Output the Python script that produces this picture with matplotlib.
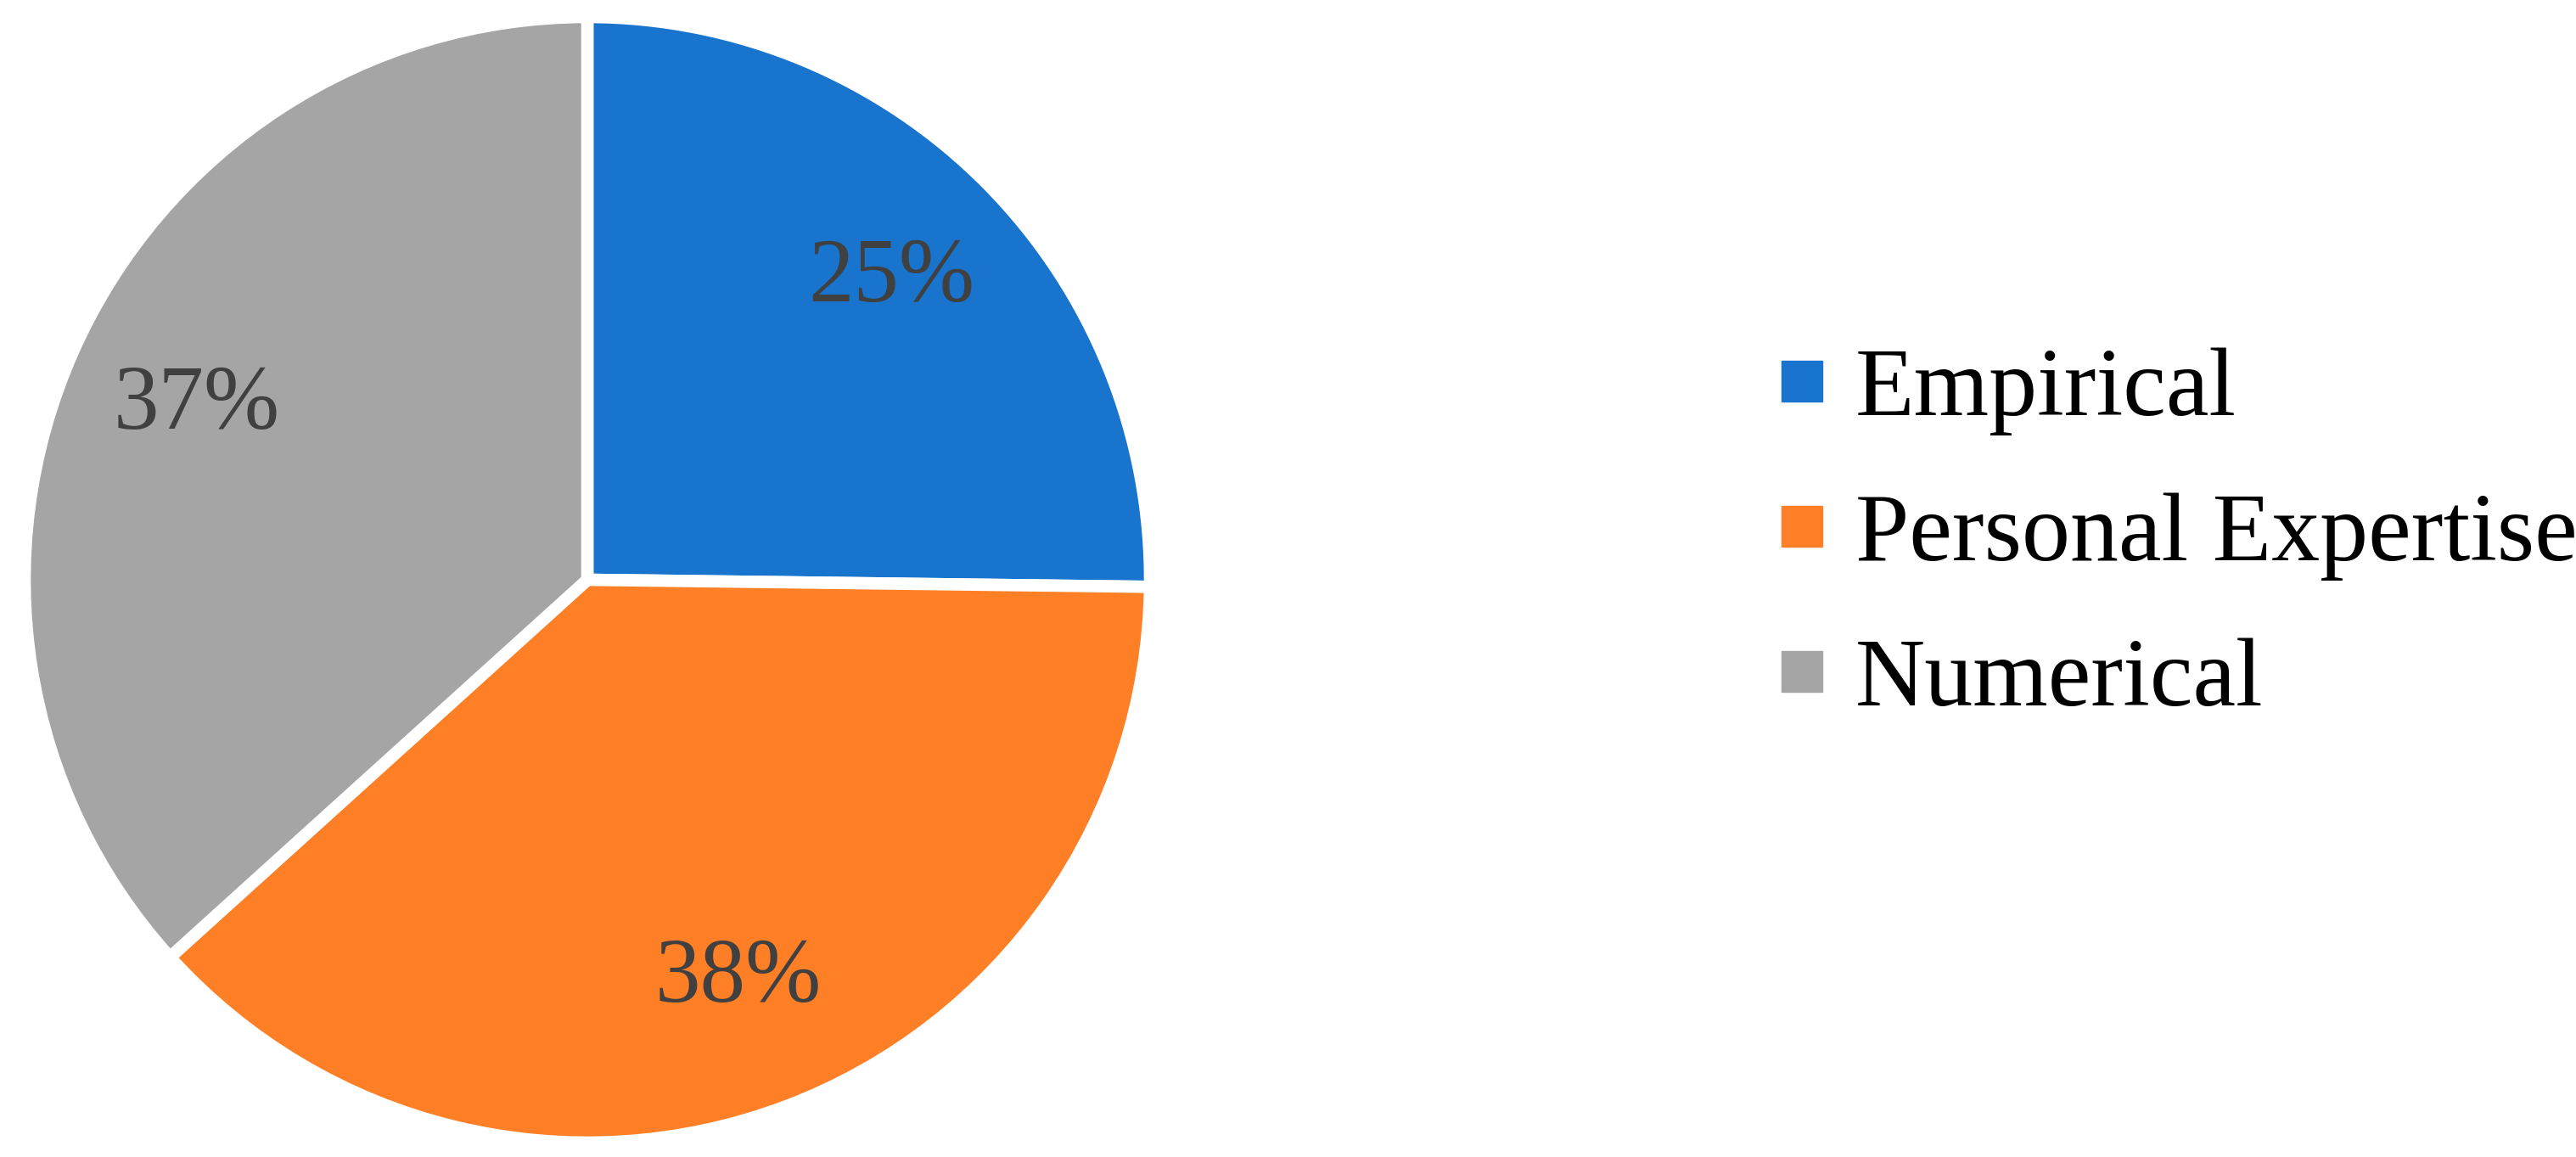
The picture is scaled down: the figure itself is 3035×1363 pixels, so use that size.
import matplotlib
matplotlib.use("Agg")
import matplotlib.pyplot as plt
from matplotlib.lines import Line2D

categories = ["Empirical", "Personal Expertise", "Numerical"]
values = [25.2, 38.1, 36.7]
colors = ["#1874CD", "#FF7F27", "#A5A5A5"]

plt.rcParams['font.family'] = ['Liberation Serif', 'DejaVu Serif']

W, H = 3035, 1363
fig = plt.figure(figsize=(W / 100, H / 100), dpi=100)
cx, cy, R = 692, 683, 656
ax = fig.add_axes([(cx - R) / W, (H - cy - R) / H, 2 * R / W, 2 * R / H])
wedges, texts, autotexts = ax.pie(
    values, colors=colors, startangle=90, counterclock=False,
    radius=1 + 7 / R, autopct=lambda p: f"{p:.0f}%", pctdistance=0.76,
    wedgeprops=dict(edgecolor="white", linewidth=10.5),
    textprops=dict(color="#404040", fontsize=77))
ax.set_xlim(-1, 1)
ax.set_ylim(-1, 1)
ax.set_aspect("equal")
ax.axis("off")

handles = [Line2D([], [], marker="s", linestyle="none", markersize=34,
                  markerfacecolor=c, markeredgecolor=c) for c in colors]
fig.legend(handles, categories, loc="center left",
           bbox_to_anchor=(2089 / W, (H - 632) / H), frameon=False,
           fontsize=82, handletextpad=0.25, labelspacing=0.59,
           borderaxespad=0, borderpad=0, handlelength=0.6)

fig.savefig("out.png", dpi=100, facecolor="white")
